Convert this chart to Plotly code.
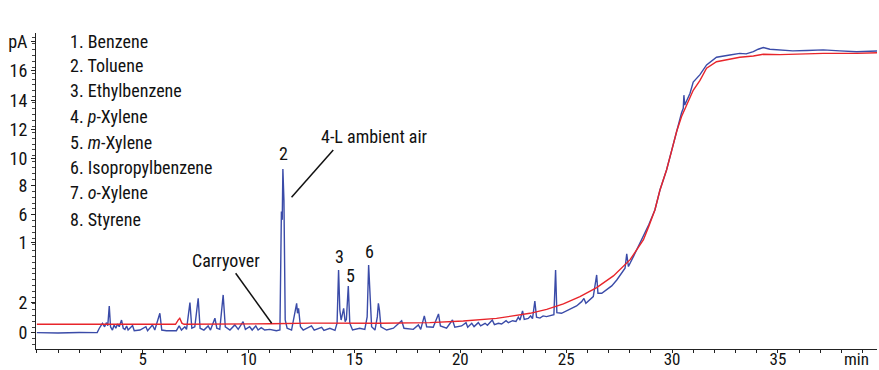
import plotly.graph_objects as go

# ---- data (time in min, signal in pA-axis units) ----
blue_t = [0.0, 1.0, 2.0, 2.85, 2.95, 3.1, 3.2, 3.29, 3.35, 3.42, 3.48, 3.57, 3.65, 3.73, 3.81, 3.89,
          4.0, 4.08, 4.16, 4.24, 4.31, 4.52, 4.6, 4.87, 5.15, 5.23, 5.46, 5.57, 5.81, 5.9, 6.12,
          6.59, 6.72, 6.83, 6.99, 7.07, 7.23, 7.32, 7.46, 7.62, 7.71, 7.89, 8.09, 8.2, 8.41, 8.5,
          8.64, 8.8, 8.9, 9.12, 9.35, 9.51, 9.74, 9.85, 10.05, 10.17, 10.34, 10.45, 10.6, 10.76,
          11.0, 11.31, 11.48, 11.55, 11.59, 11.62, 11.67, 11.7, 11.73, 11.82, 12.03, 12.27, 12.31,
          12.36, 12.45, 12.58, 12.97, 13.1, 13.45, 13.56, 13.84, 14.08, 14.18, 14.25, 14.31, 14.37,
          14.49, 14.56, 14.62, 14.71, 14.78, 14.91, 15.25, 15.49, 15.6, 15.67, 15.73, 15.81, 15.97,
          16.08, 16.13, 16.18, 16.25, 16.52, 16.84, 17.23, 17.34, 17.78, 18.02, 18.13, 18.3, 18.41,
          18.72, 18.97, 19.06, 19.35, 19.63, 19.74, 20.06, 20.27, 20.35, 20.54, 20.65, 20.85, 20.96,
          21.17, 21.28, 21.51, 21.61, 21.8, 21.95, 22.16, 22.27, 22.47, 22.63, 22.74, 22.82, 22.94,
          23.02, 23.21, 23.32, 23.41, 23.52, 23.6, 23.76, 23.91, 24.07, 24.26, 24.42, 24.5, 24.56,
          24.78, 25.02, 25.25, 25.49, 25.73, 25.84, 25.93, 26.12, 26.28, 26.44, 26.5, 26.68, 26.91,
          27.15, 27.39, 27.62, 27.78, 27.86, 27.94, 28.18, 28.42, 28.65, 28.9, 29.19, 29.43, 29.74,
          29.98, 30.22, 30.45, 30.53, 30.56, 30.6, 30.85, 31.0, 31.32, 31.63, 32.1, 32.73, 33.2,
          33.5, 33.84, 34.07, 34.31, 34.62, 35.1, 35.7, 36.36, 37.14, 37.93, 38.72, 39.74]
blue_v = [0.02, 0.0, 0.03, 0.02, 0.29, 0.59, 0.38, 0.63, 0.45, 1.65, 0.38, 0.18, 0.49, 0.29, 0.55, 0.38,
          0.79, 0.29, 0.22, 0.43, 0.18, 0.45, 0.14, 0.18, 0.38, 0.14, 0.49, 0.18, 1.2, 0.18, 0.14,
          0.14, 0.43, 0.18, 0.38, 0.22, 1.85, 0.29, 0.38, 2.12, 0.29, 0.18, 0.43, 0.18, 0.9, 0.29,
          0.22, 2.32, 0.38, 0.18, 0.49, 0.22, 0.69, 0.22, 0.38, 0.18, 0.43, 0.18, 0.33, 0.18,
          0.22, 0.14, 0.18, 7.4, 6.9, 10.0, 8.1, 2.0, 0.79, 0.29, 0.18, 1.81, 1.2,
          1.5, 0.38, 0.18, 0.43, 0.18, 0.35, 0.16, 0.29, 0.16, 0.6, 3.84, 1.4, 0.79,
          1.5, 0.69, 0.83, 2.87, 0.6, 0.18, 0.29, 0.22, 0.98, 4.15, 2.2, 0.38, 0.18,
          0.98, 1.81, 1.4, 0.38, 0.18, 0.29, 0.75, 0.29, 0.22, 0.49, 0.22, 1.04, 0.38,
          0.35, 1.16, 0.43, 0.29, 0.79, 0.35, 0.43, 0.63, 0.35, 0.59, 0.39, 0.63, 0.43,
          0.59, 0.47, 0.79, 0.51, 0.59, 0.55, 0.75, 0.63, 0.75, 0.71, 0.96, 0.79, 1.34,
          0.83, 0.89, 1.04, 0.87, 1.95, 0.96, 0.91, 1.04, 1.0, 1.04, 1.12, 3.84, 1.24,
          1.2, 1.36, 1.5, 1.65, 1.91, 2.11, 1.81, 2.01, 2.22, 3.54, 2.42, 2.42, 2.62,
          2.87, 3.23, 3.64, 3.95, 4.82, 4.05, 4.67, 5.28, 5.9, 6.6, 7.5, 8.72, 9.94,
          11.16, 12.38, 13.43, 13.7, 14.5, 13.9, 14.62, 15.3, 15.75, 16.34, 16.81, 16.95, 17.05,
          17.02, 17.15, 17.3, 17.4, 17.3, 17.26, 17.2, 17.22, 17.26, 17.2, 17.15, 17.2]

red_t = [0.0, 6.55, 6.68, 6.75, 6.85, 6.95, 11.0, 13.0, 16.2, 18.56, 20.14, 21.71, 23.29, 24.08,
         24.87, 25.65, 26.44, 27.23, 28.02, 28.65, 28.9, 29.19, 29.43, 29.74, 29.98, 30.22, 30.45,
         30.85, 31.0, 31.32, 31.63, 32.1, 32.73, 33.2, 33.84, 34.31, 35.1, 36.36, 37.14, 38.72, 39.74]
red_v = [0.53, 0.53, 0.8, 0.9, 0.6, 0.53, 0.56, 0.6, 0.59, 0.63, 0.73, 0.89, 1.2, 1.44,
         1.77, 2.22, 2.77, 3.48, 4.47, 5.69, 6.5, 7.5, 8.72, 9.94, 11.1, 12.3, 13.2,
         14.4, 14.8, 15.4, 16.14, 16.54, 16.69, 16.81, 16.89, 16.99, 16.97, 17.01, 17.05, 17.05, 17.09]

x_tick_vals = [5, 10, 15, 20, 25, 30, 35]
x_tick_text = ["5", "10", "15", "20", "25", "30", "35"]
y_tick_vals = [0, 1.85, 5.5, 7.2, 8.98, 10.65, 12.42, 14.15, 15.98, 17.76]
y_tick_text = ["0", "2", "1", "6", "8", "10", "12", "14", "16", "pA"]

compounds = ["1. Benzene", "2. Toluene", "3. Ethylbenzene", "4. <i>p</i>-Xylene",
             "5. <i>m</i>-Xylene", "6. Isopropylbenzene", "7. <i>o</i>-Xylene", "8. Styrene"]
compound_y = [17.8, 16.3, 14.76, 13.19, 11.63, 10.1, 8.58, 6.95]

peak_labels = ["2", "3", "5", "6"]
peak_label_x = [11.63, 14.31, 14.8, 15.73]
peak_label_y = [10.93, 4.65, 3.49, 4.96]

FONT = "Liberation Sans Narrow, Arial Narrow, Roboto Condensed, DejaVu Sans Condensed, Roboto, sans-serif"
FS = 18
BLUE = "#3a4ba8"
RED = "#e8252b"

fig = go.Figure()
fig.add_trace(go.Scatter(x=blue_t, y=blue_v, mode="lines",
                         line=dict(color=BLUE, width=1.4), showlegend=False))
fig.add_trace(go.Scatter(x=red_t, y=red_v, mode="lines",
                         line=dict(color=RED, width=1.4), showlegend=False))

annotations = []
for txt, yy in zip(compounds, compound_y):
    annotations.append(dict(x=1.48, y=yy, xref="x", yref="y", text=txt, showarrow=False,
                            xanchor="left", yanchor="middle", font=dict(size=FS, color="#111")))
for txt, xx, yy in zip(peak_labels, peak_label_x, peak_label_y):
    annotations.append(dict(x=xx, y=yy, xref="x", yref="y", text=txt, showarrow=False,
                            xanchor="center", yanchor="middle", font=dict(size=FS, color="#111")))
annotations.append(dict(x=13.32, y=12.01, xref="x", yref="y", text="4-L ambient air",
                        showarrow=False, xanchor="left", yanchor="middle",
                        font=dict(size=FS, color="#111")))
annotations.append(dict(x=8.93, y=4.45, xref="x", yref="y", text="Carryover",
                        showarrow=False, xanchor="center", yanchor="middle",
                        font=dict(size=FS, color="#111")))
annotations.append(dict(x=38.72, y=0, xref="x", yref="paper", text="min", showarrow=False,
                        xanchor="center", yanchor="middle", yshift=-10,
                        font=dict(size=17, color="#111")))

shapes = [
    dict(type="line", xref="x", yref="y", x0=14.0, y0=11.16, x1=12.03, y1=8.27,
         line=dict(color="#111", width=1.5)),
    dict(type="line", xref="x", yref="y", x0=9.39, y0=3.64, x1=11.09, y1=0.59,
         line=dict(color="#111", width=1.5)),
]

fig.update_layout(
    width=879, height=370,
    margin=dict(l=36, r=2, t=33, b=21),
    paper_bgcolor="white", plot_bgcolor="white",
    font=dict(family=FONT, size=FS, color="#111"),
    annotations=annotations, shapes=shapes,
    xaxis=dict(range=[-0.04, 39.68], showgrid=False, zeroline=False,
               showline=True, linecolor="#222", linewidth=1,
               tickmode="array", tickvals=x_tick_vals, ticktext=x_tick_text,
               ticks="outside", ticklen=3, tickwidth=1, tickcolor="#222",
               ticklabelstandoff=-8,
               minor=dict(ticks="outside", ticklen=3, tickwidth=1, tickcolor="#222",
                          tickmode="linear", tick0=0, dtick=1),
               tickfont=dict(size=17), automargin=False),
    yaxis=dict(range=[-0.976, 18.29], showgrid=False, zeroline=False,
               showline=True, linecolor="#222", linewidth=1,
               tickmode="array", tickvals=y_tick_vals, ticktext=y_tick_text,
               ticks="outside", ticklen=4, tickwidth=1, tickcolor="#222",
               minor=dict(ticks="outside", ticklen=3, tickwidth=1, tickcolor="#444",
                          tickmode="linear", tick0=0, dtick=0.36),
               tickfont=dict(size=FS), automargin=False),
)

fig.write_html("out.html", config={"displayModeBar": False},
               post_script="document.body.style.margin='0';document.body.style.padding='0';")
